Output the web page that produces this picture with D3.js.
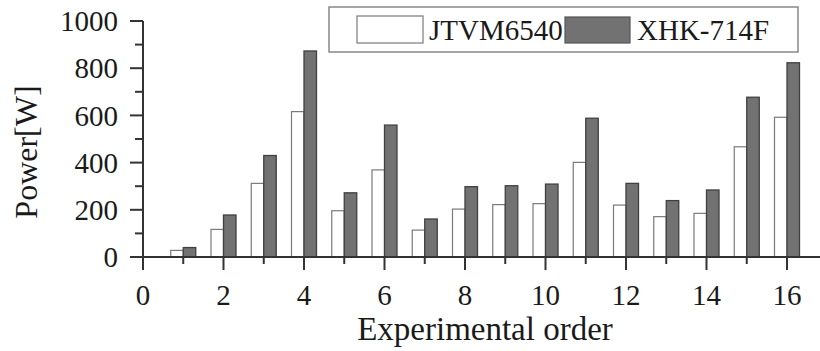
<!DOCTYPE html>
<html>
<head>
<meta charset="utf-8">
<script src="https://cdn.jsdelivr.net/npm/d3@7"></script>
<style>
  body { margin: 0; background: #fff; }
  text { font-family: "Liberation Serif", "Times New Roman", serif; fill: #1a1a1a; }
</style>
</head>
<body>
<svg id="chart" width="820" height="351"></svg>
<script>
// experimental order 1..16
var orders = [1, 2, 3, 4, 5, 6, 7, 8, 9, 10, 11, 12, 13, 14, 15, 16];
var jtvm = [28, 117, 312, 616, 196, 369, 114, 203, 222, 226, 401, 220, 171, 185, 467, 592];
var xhk  = [40, 178, 430, 873, 272, 559, 161, 298, 302, 309, 588, 312, 239, 284, 677, 823];
var xTicks = [0, 2, 4, 6, 8, 10, 12, 14, 16];
var yTicks = [0, 200, 400, 600, 800, 1000];
var seriesNames = ["JTVM6540", "XHK-714F"];

var svg = d3.select('#chart');

var x = d3.scaleLinear().domain([0, 16]).range([143, 787]);
var y = d3.scaleLinear().domain([0, 1000]).range([257, 21]);
var barW = 12.5;

// bars
var g = svg.append('g');
g.selectAll('.white')
  .data(orders)
  .enter().append('rect')
  .attr('class', 'white')
  .attr('x', (d, i) => x(d) - barW)
  .attr('y', (d, i) => y(jtvm[i]))
  .attr('width', barW)
  .attr('height', (d, i) => y(0) - y(jtvm[i]))
  .attr('fill', '#fff')
  .attr('stroke', '#7a7a7a')
  .attr('stroke-width', 1.2);

g.selectAll('.gray')
  .data(orders)
  .enter().append('rect')
  .attr('class', 'gray')
  .attr('x', d => x(d))
  .attr('y', (d, i) => y(xhk[i]))
  .attr('width', barW)
  .attr('height', (d, i) => y(0) - y(xhk[i]))
  .attr('fill', '#727272')
  .attr('stroke', '#404040')
  .attr('stroke-width', 1.3);

// x axis
var xAxis = svg.append('g').attr('transform', 'translate(0,' + y(0) + ')');
xAxis.append('line')
  .attr('x1', 130).attr('x2', 820)
  .attr('stroke', '#333').attr('stroke-width', 2);
xAxis.selectAll('.minor')
  .data(d3.range(1, 17, 2))
  .enter().append('line')
  .attr('x1', d => x(d)).attr('x2', d => x(d))
  .attr('y1', 0).attr('y2', 7)
  .attr('stroke', '#333').attr('stroke-width', 2);
xAxis.selectAll('.major')
  .data(xTicks)
  .enter().append('line')
  .attr('x1', d => x(d)).attr('x2', d => x(d))
  .attr('y1', 0).attr('y2', 13)
  .attr('stroke', '#333').attr('stroke-width', 2);
xAxis.selectAll('.lbl')
  .data(xTicks)
  .enter().append('text')
  .attr('x', d => x(d))
  .attr('y', 48)
  .attr('text-anchor', 'middle')
  .style('font-size', '29px')
  .text(d => d);

// y axis
var yAxis = svg.append('g').attr('transform', 'translate(' + x(0) + ',0)');
yAxis.append('line')
  .attr('y1', y(1000)).attr('y2', y(0))
  .attr('stroke', '#333').attr('stroke-width', 2);
yAxis.selectAll('.minor')
  .data(d3.range(100, 1000, 200))
  .enter().append('line')
  .attr('x1', 0).attr('x2', -8)
  .attr('y1', d => y(d)).attr('y2', d => y(d))
  .attr('stroke', '#333').attr('stroke-width', 2);
yAxis.selectAll('.major')
  .data(yTicks)
  .enter().append('line')
  .attr('x1', 0).attr('x2', -13)
  .attr('y1', d => y(d)).attr('y2', d => y(d))
  .attr('stroke', '#333').attr('stroke-width', 2);
yAxis.selectAll('.lbl')
  .data(yTicks)
  .enter().append('text')
  .attr('x', -25)
  .attr('y', d => y(d))
  .attr('dy', '0.35em')
  .attr('text-anchor', 'end')
  .style('font-size', '29px')
  .text(d => d);

// axis titles
svg.append('text')
  .attr('x', 485).attr('y', 340)
  .attr('text-anchor', 'middle')
  .style('font-size', '33px')
  .text('Experimental order');
svg.append('text')
  .attr('transform', 'translate(37,152) rotate(-90)')
  .attr('text-anchor', 'middle')
  .style('font-size', '32px')
  .text('Power[W]');

// legend
var leg = svg.append('g');
leg.append('rect')
  .attr('x', 329).attr('y', 7).attr('width', 469).attr('height', 45)
  .attr('fill', '#fff').attr('stroke', '#888').attr('stroke-width', 1.5);
leg.append('rect')
  .attr('x', 357).attr('y', 16).attr('width', 66).attr('height', 27)
  .attr('fill', '#fff').attr('stroke', '#7a7a7a').attr('stroke-width', 1.2);
leg.append('text')
  .attr('x', 429).attr('y', 40)
  .style('font-size', '29px')
  .text(seriesNames[0]);
leg.append('rect')
  .attr('x', 565).attr('y', 17).attr('width', 65).attr('height', 26)
  .attr('fill', '#727272').attr('stroke', '#555').attr('stroke-width', 1.2);
leg.append('text')
  .attr('x', 637).attr('y', 40)
  .style('font-size', '29px')
  .text(seriesNames[1]);
</script>
</body>
</html>
